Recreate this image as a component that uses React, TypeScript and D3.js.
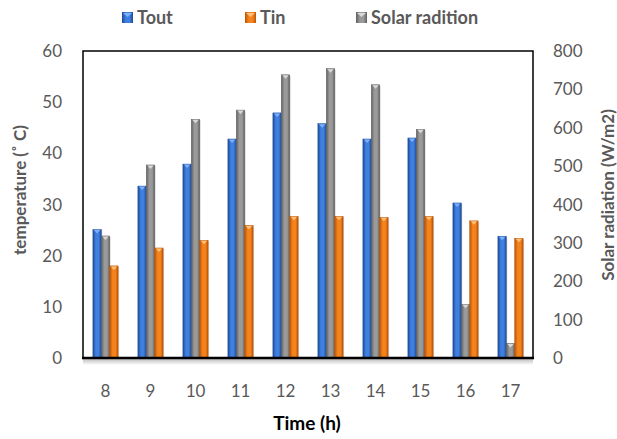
import React from 'react';
import * as d3 from 'd3';

// hourly readings
const hours = ['8', '9', '10', '11', '12', '13', '14', '15', '16', '17'];
const tout = [25.1, 33.6, 37.9, 42.8, 47.9, 45.8, 42.8, 43.0, 30.3, 23.8];
const tin = [18.0, 21.5, 23.0, 25.9, 27.7, 27.7, 27.5, 27.7, 26.8, 23.4];
const solar = [318, 503, 622, 646, 738, 754, 712, 596, 140, 38];
const tempTicks = [0, 10, 20, 30, 40, 50, 60];
const solarTicks = [0, 100, 200, 300, 400, 500, 600, 700, 800];

const W = 617;
const H = 439;
const left = 83;
const right = 533;
const top = 51;
const bottom = 358;
const font = 'Lato, "Open Sans", sans-serif';
const tickColor = '#595959';

const palette = {
  tout: { light: '#3f7fe0', dark: '#1d4a94', cap: '#7fb0ff' },
  tin: { light: '#f5831c', dark: '#b95407', cap: '#ffc07a' },
  solar: { light: '#9a9a9a', dark: '#5e5e5e', cap: '#d8d8d8' },
};

export default function App() {
  const x = d3.scaleBand().domain(hours).range([left, right]).paddingInner(0.44).paddingOuter(0.22);
  const series = ['tout', 'solar', 'tin'];
  const xs = d3.scaleBand().domain(series).range([0, x.bandwidth()]);
  const yT = d3.scaleLinear().domain([0, 60]).range([bottom, top]);
  const yS = d3.scaleLinear().domain([0, 800]).range([bottom, top]);

  const bar = (key, i, v) => {
    const y = key === 'solar' ? yS(v) : yT(v);
    const bx = x(hours[i]) + xs(key);
    const bw = xs.bandwidth();
    const h = bottom - y;
    const c = palette[key];
    return (
      <g key={key + i}>
        <rect x={bx + 1} y={y + 1} width={bw} height={h} fill="#000" opacity={0.15} />
        <rect x={bx} y={y} width={bw} height={h} fill={`url(#g-${key})`} stroke={c.dark} strokeWidth={0.5} />
        <polygon
          points={`${bx + 1},${y + 0.5} ${bx + bw - 1},${y + 0.5} ${bx + bw / 2},${y + 4}`}
          fill={c.cap}
        />
      </g>
    );
  };

  const legend = [
    { key: 'tout', label: 'Tout', x: 122 },
    { key: 'tin', label: 'Tin', x: 245 },
    { key: 'solar', label: 'Solar radition', x: 356 },
  ];

  return (
    <svg width={W} height={H} style={{ position: 'absolute', left: 0, top: 0 }}>
      <defs>
        {Object.entries(palette).map(([k, c]) => (
          <linearGradient key={k} id={`g-${k}`} x1="0" x2="1" y1="0" y2="0">
            <stop offset="0" stopColor={c.dark} />
            <stop offset="0.35" stopColor={c.light} />
            <stop offset="0.7" stopColor={c.light} />
            <stop offset="1" stopColor={c.dark} />
          </linearGradient>
        ))}
        <linearGradient id="axisShadow" x1="0" x2="0" y1="0" y2="1">
          <stop offset="0" stopColor="#000" stopOpacity={0.25} />
          <stop offset="1" stopColor="#000" stopOpacity={0} />
        </linearGradient>
      </defs>
      <rect width={W} height={H} fill="#fff" />

      {/* legend */}
      {legend.map(l => (
        <g key={l.key}>
          <rect x={l.x} y={12} width={11} height={11} fill={`url(#g-${l.key})`} />
          <polygon points={`${l.x + 1},13 ${l.x + 10},13 ${l.x + 5.5},17`} fill={palette[l.key].cap} />
          <text x={l.x + 15} y={24} fontFamily={font} fontWeight="bold" fontSize={18} fill={tickColor}>
            {l.label}
          </text>
        </g>
      ))}

      {/* bars */}
      {hours.map((h, i) => (
        <g key={h}>
          {bar('tout', i, tout[i])}
          {bar('solar', i, solar[i])}
          {bar('tin', i, tin[i])}
        </g>
      ))}

      {/* frame */}
      <rect x={left} y={bottom + 1} width={right - left} height={6} fill="url(#axisShadow)" />
      <polyline points={`${left},${bottom} ${left},${top} ${right},${top} ${right},${bottom}`} fill="none" stroke="#000" strokeWidth={1.5} />
      <line x1={left - 1} x2={right + 1} y1={bottom} y2={bottom} stroke="#000" strokeWidth={2.5} />

      {/* left ticks */}
      {tempTicks.map(t => (
        <text key={t} x={62} y={yT(t) + 6} textAnchor="end" fontFamily={font} fontSize={17} fill={tickColor}>
          {t}
        </text>
      ))}
      {/* right ticks */}
      {solarTicks.map(t => (
        <text key={t} x={553} y={yS(t) + 6} fontFamily={font} fontSize={17} fill={tickColor}>
          {t}
        </text>
      ))}
      {/* x ticks */}
      {hours.map(h => (
        <text key={h} x={x(h) + x.bandwidth() / 2} y={397} textAnchor="middle" fontFamily={font} fontSize={17} fill={tickColor}>
          {h}
        </text>
      ))}

      <text x={307} y={430} textAnchor="middle" fontFamily={font} fontWeight="bold" fontSize={19} fill="#000">
        Time (h)
      </text>
      <text transform={`translate(26,190) rotate(-90)`} textAnchor="middle" fontFamily={font} fontWeight="bold" fontSize={17} fill={tickColor}>
        temperature (˚ C)
      </text>
      <text transform={`translate(614,195) rotate(-90)`} textAnchor="middle" fontFamily={font} fontWeight="bold" fontSize={17} fill={tickColor}>
        Solar radiation (W/m2)
      </text>
    </svg>
  );
}
